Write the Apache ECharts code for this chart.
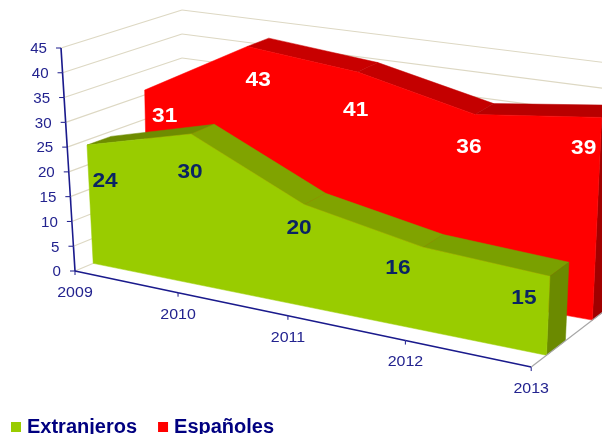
<!DOCTYPE html>
<html><head><meta charset="utf-8">
<style>html,body{margin:0;padding:0;background:#fff}#c{width:602px;height:434px}</style>
<script src="https://cdn.jsdelivr.net/npm/echarts@6/dist/echarts.min.js"></script>
</head><body><div id="c"></div>
<script>
const years = ['2009','2010','2011','2012','2013'];
const extranjeros = [24,30,20,16,15];
const espanoles = [31,43,41,36,39];
const valueTicks = [0,5,10,15,20,25,30,35,40,45];

// Box corners of the 3D plot (front/back, left/right, bottom/top)
const BOX = {
  FLB:[75,271], FRB:[531,367], BLB:[182,226], BRB:[621,298],
  FLT:[61,48],  FRT:[541,129], BLT:[182,10],  BRT:[632,66]
};
const GRID = {left:100, top:100, width:400, height:200};
function mix(a,b,t){return [a[0]+(b[0]-a[0])*t, a[1]+(b[1]-a[1])*t];}
function project(api,cat,val,r){
  const p = api.coord([cat,val]);
  const u = (p[0]-GRID.left)/GRID.width*4;
  const s = 0.2189*u/(1-0.0312*u);
  const t = (GRID.top+GRID.height-p[1])/GRID.height;
  const bot = mix(mix(BOX.FLB,BOX.FRB,s), mix(BOX.BLB,BOX.BRB,s), r);
  const top = mix(mix(BOX.FLT,BOX.FRT,s), mix(BOX.BLT,BOX.BRT,s), r);
  return mix(bot,top,t);
}
function poly(points,fill,z2){
  return {type:'polygon',z2:z2||0,shape:{points},style:{fill,stroke:fill,lineWidth:0.5},silent:true};
}
function line(a,b,stroke,lineWidth){
  return {type:'line',shape:{x1:a[0],y1:a[1],x2:b[0],y2:b[1]},style:{stroke,lineWidth,fill:null},silent:true};
}
function label(text,p,fill,size,weight,stretch,align){
  return {type:'text',x:p[0],y:p[1],scaleX:stretch,z2:5,silent:true,
    style:{text:String(text),fill,fontFamily:'"Liberation Sans",Arial,sans-serif',fontSize:size,fontWeight:weight,
      textAlign:align||'center',textVerticalAlign:'middle'}};
}
function area(values,style){
  return function(params,api){
    const i = params.dataIndex, v = values[i], out = [];
    const fT = project(api,i,v,style.r0), bT = project(api,i,v,style.r1);
    const fB = project(api,i,0,style.r0), bB = project(api,i,0,style.r1);
    if(i===0){
      const topEdge = values.map((w,k)=>project(api,k,w,style.r0));
      out.push(poly(topEdge.concat([project(api,values.length-1,0,style.r0),fB]),style.front,2));
    }
    if(i<values.length-1){
      const fT2 = project(api,i+1,values[i+1],style.r0), bT2 = project(api,i+1,values[i+1],style.r1);
      const cross = (fT2[0]-fT[0])*(bT[1]-fT[1])-(fT2[1]-fT[1])*(bT[0]-fT[0]);
      if(cross<0) out.push(poly([fT,fT2,bT2,bT],style.tops[i],1));
    } else {
      out.push(poly([fT,bT,bB,fB],style.side,1));
    }
    const o = style.offsets[i];
    out.push(label(v,[fT[0]+o[0],fT[1]+o[1]],style.text,21,'bold',1.08));
    return {type:'group',children:out};
  };
}
const greenStyle = {r0:0.17,r1:0.38,front:'#99CC00',side:'#6B8A00',
  tops:['#6E8C00','#80A300','#80A300','#7AA000'],text:'#0A2463',
  offsets:[[18,36],[-1,38],[-5,24],[-25,21],[-26,22]]};
const redStyle = {r0:0.68,r1:0.87,front:'#FF0000',side:'#A00000',
  tops:['#C80000','#C80000','#C40000','#B80000'],text:'#FFFFFF',
  offsets:[[20,26],[11,34],[-2,38],[-6,33],[-18,31]]};

const wallColor = '#DDD8C3', axisColor = '#1A1A8C', labelColor = '#23238F';

function renderWalls(params,api){
  const v = api.value(1);
  const f = project(api,0,v,0), b = project(api,0,v,1), e = project(api,4,v,1);
  return {type:'group',children:[line(f,b,wallColor,1.2),line(b,e,wallColor,1.2)]};
}
function renderValueAxis(params,api){
  const v = api.value(1), p = project(api,0,v,0), kids = [];
  kids.push(line([p[0]-5,p[1]],p,axisColor,1));
  if(params.dataIndex<valueTicks.length-1) kids.push(line(p,project(api,0,valueTicks[params.dataIndex+1],0),axisColor,1.6));
  kids.push(label(v,[p[0]-14,p[1]+1.5],labelColor,14,'normal',1.08,'right'));
  return {type:'group',children:kids};
}
function renderCatAxis(params,api){
  const i = params.dataIndex, p = project(api,i,0,0), kids = [];
  kids.push(line(p,[p[0],p[1]+4],axisColor,1));
  if(i<years.length-1) kids.push(line(p,project(api,i+1,0,0),axisColor,1.6));
  else kids.push(line(p,project(api,i,0,1),'#A6A6A6',1.2));
  kids.push(label(years[i],[p[0],p[1]+22],labelColor,14,'normal',1.14));
  return {type:'group',children:kids};
}

const chart = echarts.init(document.getElementById('c'),null,{renderer:'canvas'});
chart.setOption({
  animation:false,
  backgroundColor:'#fff',
  grid:GRID,
  xAxis:{type:'category',data:years,boundaryGap:false,show:false},
  yAxis:{type:'value',min:0,max:45,interval:5,show:false},
  legend:{data:['Extranjeros','Españoles'],left:6,top:417,itemWidth:10,itemHeight:10,itemGap:21,padding:[0,5],
    icon:'rect',textStyle:{color:'#000080',fontWeight:'bold',fontSize:20,fontFamily:'"Liberation Sans",Arial,sans-serif',padding:[0,0,0,1]}},
  series:[
    {name:'paredes',type:'custom',z:1,renderItem:renderWalls,data:valueTicks.map(v=>[0,v]),encode:{x:0,y:1}},
    {name:'Españoles',type:'custom',z:2,itemStyle:{color:'#FF0000'},renderItem:area(espanoles,redStyle),data:espanoles.map((v,i)=>[i,v]),encode:{x:0,y:1}},
    {name:'Extranjeros',type:'custom',z:3,itemStyle:{color:'#99CC00'},renderItem:area(extranjeros,greenStyle),data:extranjeros.map((v,i)=>[i,v]),encode:{x:0,y:1}},
    {name:'eje valores',type:'custom',z:4,renderItem:renderValueAxis,data:valueTicks.map(v=>[0,v]),encode:{x:0,y:1}},
    {name:'eje años',type:'custom',z:4,renderItem:renderCatAxis,data:years.map((y,i)=>[i,0]),encode:{x:0,y:1}}
  ]
});
</script></body></html>
